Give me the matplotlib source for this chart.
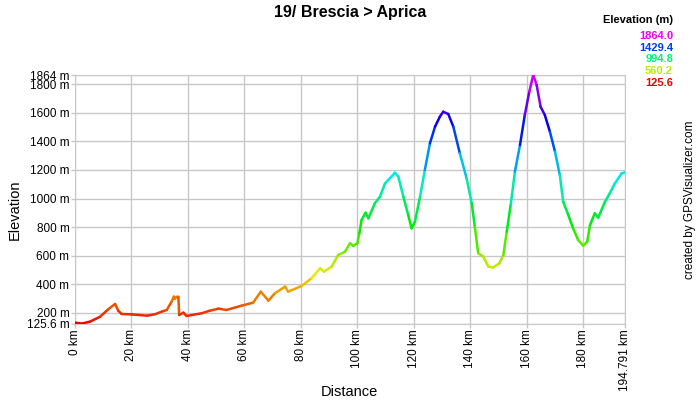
import colorsys
import numpy as np
import matplotlib
matplotlib.use('agg')
from matplotlib import pyplot as plt
from matplotlib.collections import LineCollection

plt.rcParams['font.family'] = ['Liberation Sans', 'DejaVu Sans']

# profile: distance (km), elevation (m)
dist = [0, 2.4, 5.3, 8.9, 11.8, 14.2, 15.3, 16.5, 20.0, 25.6, 28.5, 30.7,
        32.5, 34.2, 35.0, 35.4, 36.0, 36.6, 36.9, 38.4, 39.5, 44.9, 47.8,
        50.8, 53.7, 59.0, 63.1, 65.8, 68.5, 70.8, 74.4, 75.5, 80.3, 83.8,
        86.8, 88.2, 90.9, 93.2, 95.6, 97.4, 98.6, 100.0, 100.7, 101.5,
        102.9, 103.9, 106.2, 108.0, 109.8, 111.5, 113.3, 114.5, 116.3,
        118.0, 119.2, 120.4, 122.2, 123.9, 125.7, 127.5, 129.2, 130.4,
        132.2, 134.0, 136.3, 138.7, 140.5, 141.6, 142.8, 144.6, 146.4,
        148.1, 150.3, 151.7, 152.9, 154.3, 155.8, 157.6, 159.3, 160.9,
        162.3, 163.5, 164.9, 166.4, 168.2, 170.0, 171.7, 172.9, 174.7,
        176.4, 178.2, 180.0, 181.4, 182.4, 184.1, 185.3, 187.7, 189.4,
        191.2, 193.6, 194.791]
elev = [132, 126, 139, 174, 226, 263, 216, 193, 190, 181, 192, 209,
        221, 279, 314, 300, 314, 314, 186, 202, 179, 198, 216,
        230, 221, 251, 272, 349, 286, 338, 384, 349, 389, 443,
        512, 489, 524, 605, 628, 687, 668, 687, 757, 850,
        901, 862, 967, 1013, 1106, 1141, 1181, 1153, 1013,
        885, 792, 838, 1013, 1200, 1386, 1502, 1572, 1607,
        1591, 1502, 1316, 1141, 967, 803, 617, 594, 524,
        519, 547, 605, 768, 955, 1188, 1374, 1584, 1747,
        1864, 1794, 1642, 1584, 1467, 1328, 1165, 978, 885,
        792, 710, 670, 698, 815, 897, 866, 978, 1037,
        1106, 1176, 1183]

y_ticks = [200, 400, 600, 800, 1000, 1200, 1400, 1600, 1800]
x_ticks = [0, 20, 40, 60, 80, 100, 120, 140, 160, 180]
legend_vals = [1864.0, 1429.4, 994.8, 560.2, 125.6]

e_min, e_max = 125.6, 1864.0
d_max = 194.791


def elev_color(e, v=0.92):
    # hue runs from red (low) to magenta (high)
    h = (e - e_min) / (e_max - e_min) * 300.0 / 360.0
    return colorsys.hsv_to_rgb(h, 1.0, v)


fig = plt.figure(figsize=(7, 4), dpi=100)
ax = fig.add_axes([75 / 700, 76.4 / 400, 550 / 700, 248.6 / 400])

x = np.asarray(dist)
y = np.asarray(elev, dtype=float)
pts = np.column_stack([x, y]).reshape(-1, 1, 2)
segs = np.concatenate([pts[:-1], pts[1:]], axis=1)
cols = [elev_color((a + b) / 2) for a, b in zip(y[:-1], y[1:])]
ax.add_collection(LineCollection(segs, colors=cols, linewidths=1.8,
                                 capstyle='round', joinstyle='round', zorder=3))

ax.set_xlim(0, d_max)
ax.set_ylim(e_min, e_max)

yt = [e_min] + y_ticks + [e_max]
ax.set_yticks(yt)
ax.set_yticklabels(['125.6 m'] + [f'{v} m' for v in y_ticks] + ['1864 m'])
xt = x_ticks + [d_max]
ax.set_xticks(xt)
ax.set_xticklabels([f'{v} km' for v in x_ticks] + ['194.791 km'], rotation=90)

ax.grid(True, color='#c8c8c8', linewidth=1)
ax.tick_params(axis='both', colors='#c8c8c8', labelcolor='black',
               labelsize=8.5, length=3, width=1, pad=1)
for s in ax.spines.values():
    s.set_color('#c8c8c8')

fig.text(15 / 700, 1 - 210 / 400, 'Elevation', rotation=90, ha='center',
         va='center', fontsize=10.5)
fig.text(349 / 700, 1 - 392 / 400, 'Distance', ha='center', va='center',
         fontsize=10.5)

fig.text(0.5, 1 - 12 / 400, '19/ Brescia > Aprica', ha='center', va='center',
         fontsize=11.5, fontweight='bold')

fig.text(673 / 700, 1 - 20 / 400, 'Elevation (m)', ha='right', va='center',
         fontsize=8, fontweight='bold')
for i, v in enumerate(legend_vals):
    fig.text(673 / 700, 1 - (36 + 11.7 * i) / 400, f'{v:.1f}', ha='right',
             va='center', fontsize=8, fontweight='bold', color=elev_color(v, 0.95))

fig.text(690 / 700, 1 - 200 / 400, 'created by GPSVisualizer.com', rotation=90,
         ha='center', va='center', fontsize=8.5)

fig.savefig('out.png', dpi=100)
